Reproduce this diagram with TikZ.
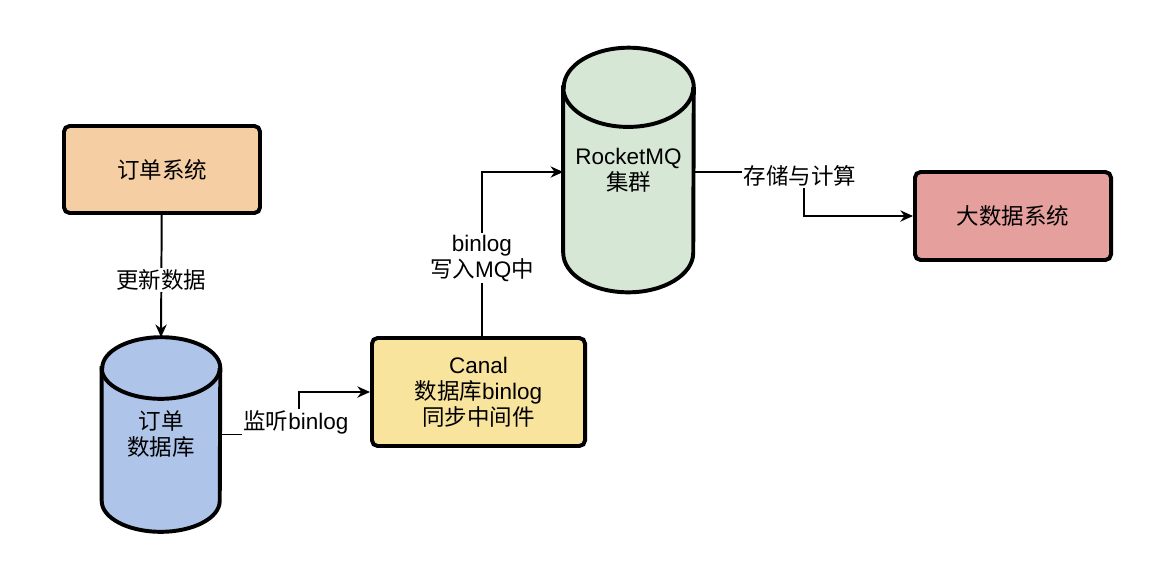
\documentclass[tikz,border=0pt]{standalone}
\usepackage{fontspec}
\setmainfont{Liberation Sans}
\newfontfamily\cjk{Noto Sans CJK SC}
\usetikzlibrary{arrows.meta,backgrounds}

\definecolor{orderfill}{RGB}{246,206,164}
\definecolor{dbfill}{RGB}{174,196,232}
\definecolor{canalfill}{RGB}{249,228,158}
\definecolor{mqfill}{RGB}{214,231,213}
\definecolor{bigfill}{RGB}{229,160,157}

\begin{document}
\begin{tikzpicture}[x=0.025cm,y=-0.025cm,
    font=\fontsize{16pt}{18.5pt}\selectfont,
    box/.style={draw,line width=2.8pt,rounded corners=4pt,align=center,inner sep=0pt},
    db/.style={align=center,inner sep=0pt},
    link/.style={line width=1.4pt,-{Stealth[length=9pt,width=8pt]}},
    lbl/.style={fill=white,inner sep=1pt,align=center}]
\useasboundingbox (0,0) rectangle (1164,562);

% Boxes
\node[box,fill=orderfill,minimum width=4.9cm,minimum height=2.175cm] (ordersys) at (162,169.5) {\cjk 订单系统};
\node[box,fill=canalfill,minimum width=5.325cm,minimum height=2.7cm] (canal) at (478.5,392) {Canal\\{\cjk 数据库}binlog\\{\cjk 同步中间件}};
\node[box,fill=bigfill,minimum width=4.9cm,minimum height=2.2cm] (bigdata) at (1013,216) {\cjk 大数据系统};

% Databases
\node[db,minimum width=2.95cm,minimum height=4.85cm] (orderdb) at (161,434.5) {\cjk 订单\\\cjk 数据库};
\node[db,minimum width=3.25cm,minimum height=6.1cm] (mq) at (628.5,170) {RocketMQ\\\cjk 集群};

% Cylinder outlines behind the text
\begin{scope}[on background layer]
\foreach \n/\c/\rx/\ry in {orderdb/dbfill/1.475cm/0.77cm, mq/mqfill/1.625cm/0.99cm} {
  \draw[line width=2.8pt,fill=\c] ([yshift=-\ry]\n.north west) -- ([yshift=\ry]\n.south west)
    arc[start angle=180,end angle=360,x radius=\rx,y radius=\ry]
    -- ([yshift=-\ry]\n.north east)
    arc[start angle=0,end angle=180,x radius=\rx,y radius=\ry] -- cycle;
  \draw[line width=2.8pt] ([yshift=-\ry]\n.north west)
    arc[start angle=180,end angle=360,x radius=\rx,y radius=\ry];
}
\end{scope}

% Turning points
\coordinate (t1) at (299,392);
\coordinate (t2) at (482,172);
\coordinate (t3) at (804,172);

% Connectors
\draw[link] (ordersys) -- (orderdb.north) node[lbl,pos=0.53] {\cjk 更新数据};
\draw[link] (orderdb.east) -| (t1) -- (canal.west);
\node[lbl] (listen) at (296,422) {{\cjk 监听}binlog};
\draw[link] (canal.north -| t2) -- (t2) -- (mq.west |- t2);
\node[lbl] (write) at (482,258) {binlog\\{\cjk 写入}MQ{\cjk 中}};
\draw[link] (mq.east |- t3) -- (t3) |- (bigdata.west);
\node[lbl] (store) at (800,176) {\cjk 存储与计算};

\end{tikzpicture}
\end{document}
